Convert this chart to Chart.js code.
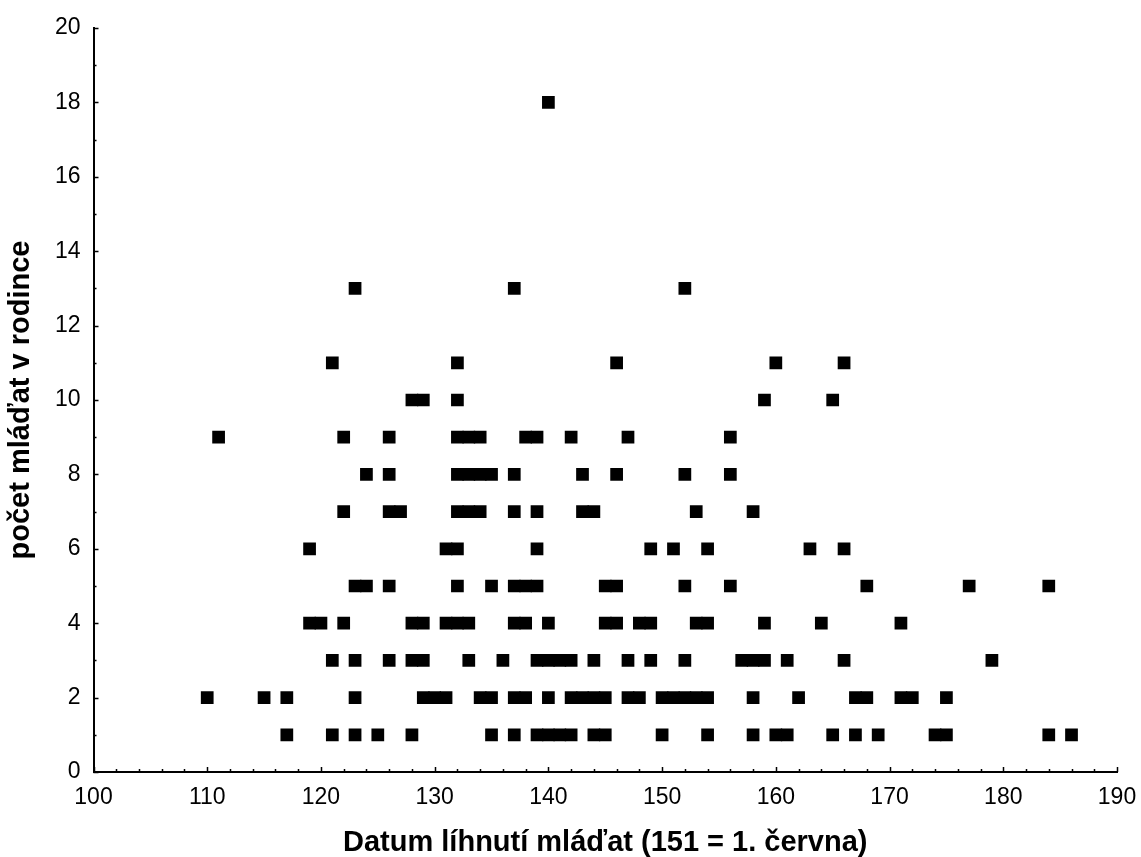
<!DOCTYPE html>
<html>
<head>
<meta charset="utf-8">
<script src="https://cdn.jsdelivr.net/npm/chart.js@4/dist/chart.umd.min.js"></script>
<style>
    html, body { margin: 0; padding: 0; background: #fff; }
    #wrap { width: 1141px; height: 857px; }
</style>
</head>
<body>
<div id="wrap"><canvas id="chart" width="1141" height="857"></canvas></div>
<script>
// hatching day of each family, grouped by number of young in the family
const daysWith1 = [117, 121, 123, 125, 128, 135, 137, 139, 140, 141, 142, 144, 145, 150, 154, 158, 160, 161, 165, 167, 169, 174, 175, 184, 186];
const daysWith2 = [110, 115, 117, 123, 129, 130, 131, 134, 135, 137, 138, 140, 142, 143, 144, 145, 147, 148, 150, 151, 152, 153, 154, 158, 162, 167, 168, 171, 172, 175];
const daysWith3 = [121, 123, 126, 128, 129, 133, 136, 139, 140, 141, 142, 144, 147, 149, 152, 157, 158, 159, 161, 166, 179];
const daysWith4 = [119, 120, 122, 128, 129, 131, 132, 133, 137, 138, 140, 145, 146, 148, 149, 153, 154, 159, 164, 171];
const daysWith5 = [123, 124, 126, 132, 135, 137, 138, 139, 145, 146, 152, 156, 168, 177, 184];
const daysWith6 = [119, 131, 132, 139, 149, 151, 154, 163, 166];
const daysWith7 = [122, 126, 127, 132, 133, 134, 137, 139, 143, 144, 153, 158];
const daysWith8 = [124, 126, 132, 133, 134, 135, 137, 143, 146, 152, 156];
const daysWith9 = [111, 122, 126, 132, 133, 134, 138, 139, 142, 147, 156];
const daysWith10 = [128, 129, 132, 159, 165];
const daysWith11 = [121, 132, 146, 160, 166];
const daysWith13 = [123, 137, 152];
const daysWith18 = [140];

const broodSizes = [1, 2, 3, 4, 5, 6, 7, 8, 9, 10, 11, 13, 18];
const dayLists = [daysWith1, daysWith2, daysWith3, daysWith4, daysWith5, daysWith6, daysWith7,
    daysWith8, daysWith9, daysWith10, daysWith11, daysWith13, daysWith18];

const xTitle = 'Datum líhnutí mláďat (151 = 1. června)';
const yTitle = 'počet mláďat v rodince';

const points = [];
dayLists.forEach((days, i) => {
    days.forEach(d => points.push({ x: d, y: broodSizes[i] }));
});

const FONT = '"Liberation Sans", Arial, sans-serif';

// short inward ticks, major ones a bit longer
const innerTicks = {
    id: 'innerTicks',
    afterDraw(chart) {
        const ctx = chart.ctx;
        const xs = chart.scales.x;
        const ys = chart.scales.y;
        const area = chart.chartArea;
        ctx.save();
        ctx.strokeStyle = '#000';
        ctx.lineWidth = 1.5;
        ctx.beginPath();
        for (let v = 100; v <= 190; v += 2) {
            const px = Math.round(xs.getPixelForValue(v)) + 0.5;
            const len = v % 10 === 0 ? 5 : 3;
            ctx.moveTo(px, area.bottom);
            ctx.lineTo(px, area.bottom - len);
        }
        for (let v = 0; v <= 20; v += 1) {
            const py = Math.round(ys.getPixelForValue(v)) + 0.5;
            const len = v % 2 === 0 ? 5 : 3;
            ctx.moveTo(area.left, py);
            ctx.lineTo(area.left + len, py);
        }
        ctx.stroke();
        ctx.restore();
    }
};

new Chart(document.getElementById('chart'), {
    type: 'scatter',
    data: {
        datasets: [{
            data: points,
            pointStyle: 'rect',
            pointRadius: 9,
            pointHoverRadius: 9,
            pointBorderWidth: 0,
            backgroundColor: '#000',
            borderColor: '#000'
        }]
    },
    options: {
        responsive: false,
        animation: false,
        layout: { padding: { left: 0, right: 24, top: 28, bottom: 0 } },
        plugins: {
            legend: { display: false },
            tooltip: { enabled: false }
        },
        scales: {
            x: {
                type: 'linear',
                min: 100,
                max: 190,
                afterFit: s => { s.height = 85; s.paddingLeft = 0; s.paddingRight = 0; },
                border: { display: true, color: '#000', width: 2 },
                grid: { display: false, drawTicks: false },
                ticks: {
                    stepSize: 10,
                    padding: 12,
                    color: '#000',
                    font: { family: FONT, size: 23 },
                    maxRotation: 0
                },
                title: {
                    display: true,
                    text: xTitle,
                    color: '#000',
                    font: { family: FONT, size: 29, weight: 'bold', lineHeight: 1 },
                    padding: { top: 0, bottom: 0 }
                }
            },
            y: {
                type: 'linear',
                min: 0,
                max: 20,
                afterFit: s => { s.width = 93.5; s.paddingTop = 0; s.paddingBottom = 0; },
                border: { display: true, color: '#000', width: 2 },
                grid: { display: false, drawTicks: false },
                ticks: {
                    stepSize: 2,
                    padding: 13,
                    color: '#000',
                    font: { family: FONT, size: 23 }
                },
                title: {
                    display: true,
                    text: yTitle,
                    color: '#000',
                    font: { family: FONT, size: 29, weight: 'bold', lineHeight: 1 },
                    padding: { top: 6, bottom: 0 }
                }
            }
        }
    },
    plugins: [innerTicks]
});
</script>
</body>
</html>
